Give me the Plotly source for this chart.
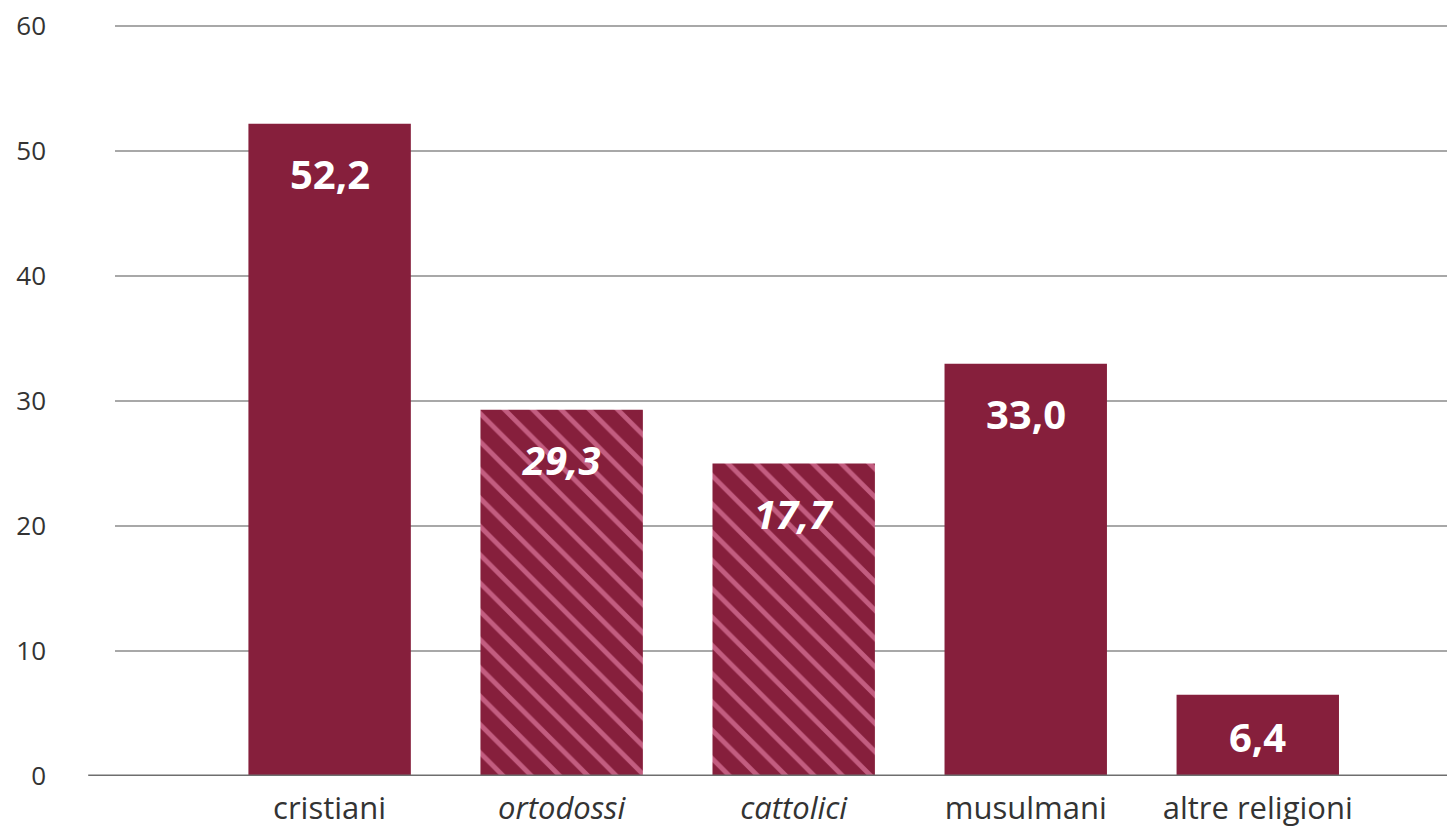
import plotly.graph_objects as go

categories = ["cristiani", "ortodossi", "cattolici", "musulmani", "altre religioni"]
tick_labels = ["cristiani", "<i>ortodossi</i>", "<i>cattolici</i>", "musulmani", "altre religioni"]
bar_heights = [52.2, 29.3, 25.0, 33.0, 6.5]
value_labels = ["52,2", "29,3", "17,7", "33,0", "6,4"]
hatched = [False, True, True, False, False]
y_ticks = [0, 10, 20, 30, 40, 50, 60]

BAR = "#861f3c"
FONT = "Open Sans"

fig = go.Figure()
fig.add_trace(go.Bar(
    x=categories,
    y=bar_heights,
    width=0.70,
    marker=dict(
        color=BAR,
        line=dict(width=0),
        pattern=dict(
            shape=["\\" if h else "" for h in hatched],
            fgcolor="#ff9cc4",
            bgcolor=BAR,
            size=20,
            solidity=0.24,
        ),
    ),
    hoverinfo="skip",
))

for c, v, lab, h in zip(categories, bar_heights, value_labels, hatched):
    txt = f"<b><i>{lab}</i></b>" if h else f"<b>{lab}</b>"
    fig.add_annotation(
        x=c, y=v, text=txt, showarrow=False,
        yanchor="top", yshift=-20 if v > 10 else -12,
        font=dict(family=FONT, size=40, color="white"),
    )

fig.add_shape(
    type="line", xref="paper", yref="y",
    x0=-0.02, x1=1, y0=0, y1=0,
    line=dict(color="#6e6e6e", width=3), layer="above",
)

fig.update_layout(
    width=1447, height=826,
    margin=dict(l=107, r=0, t=12, b=58),
    plot_bgcolor="white", paper_bgcolor="white",
    showlegend=False,
    font=dict(family=FONT, color="#333333"),
    xaxis=dict(
        tickmode="array", tickvals=categories, ticktext=tick_labels,
        range=[-0.925, 4.85],
        showgrid=False, showline=False, zeroline=False,
        tickfont=dict(family=FONT, size=31, color="#333333"),
        ticks="outside", ticklen=5, tickcolor="rgba(0,0,0,0)",
        automargin=False, ticklabeloverflow="allow",
    ),
    yaxis=dict(
        range=[0, 60.5], tickvals=y_ticks,
        showgrid=True, gridcolor="#a8a8a8", gridwidth=1.5,
        zeroline=False, showline=False,
        tickfont=dict(family=FONT, size=26, color="#333333"),
        ticklabelstandoff=68,
        automargin=False, ticklabeloverflow="allow",
    ),
)

fig.write_html("out.html")
